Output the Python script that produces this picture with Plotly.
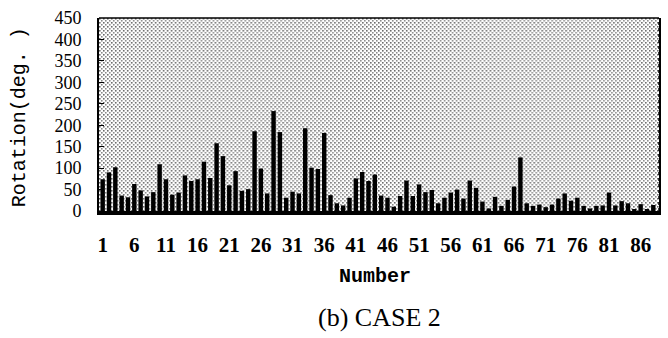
import base64
import plotly.graph_objects as go

# Rotation per member number
numbers = list(range(1, 89))
rotation = [
    74, 90, 102, 36, 32, 63, 48, 34, 44, 109, 74, 38, 43, 83,
    70, 74, 115, 77, 158, 128, 60, 93, 47, 51, 186, 99, 41, 233, 184,
    31, 45, 41, 193, 101, 98, 182, 37, 18, 13, 31, 76, 91, 70,
    85, 36, 31, 10, 35, 71, 35, 62, 44, 49, 18, 31, 43, 50, 29,
    71, 54, 22, 6, 33, 12, 26, 57, 125, 18, 12, 15, 9, 15,
    29, 41, 24, 31, 12, 6, 12, 13, 43, 13, 23, 18, 4, 16, 3, 14,
]
x_ticks = list(range(1, 87, 5))
y_ticks = list(range(0, 451, 50))

W, H = 668, 338
M_L, M_R, M_T, M_B = 99, 7, 18, 127
PW, PH = W - M_L - M_R, H - M_T - M_B

# stippled halftone background for the plot area
svg = (
    f'<svg xmlns="http://www.w3.org/2000/svg" width="{PW}" height="{PH}">'
    '<defs><pattern id="d" width="4" height="4" patternUnits="userSpaceOnUse">'
    '<rect x="0" y="0" width="1.6" height="1.6" fill="#6a6a6a"/>'
    '<rect x="2" y="2" width="1.6" height="1.6" fill="#8a8a8a"/>'
    '</pattern></defs>'
    '<rect width="100%" height="100%" fill="#ffffff"/>'
    '<rect width="100%" height="100%" fill="url(#d)"/></svg>'
)
bg_src = "data:image/svg+xml;base64," + base64.b64encode(svg.encode()).decode()

fig = go.Figure(
    go.Bar(x=numbers, y=rotation, marker=dict(color="black", line_width=0))
)

fig.update_layout(
    width=W, height=H,
    margin=dict(l=M_L, r=M_R, t=M_T, b=M_B),
    paper_bgcolor="white",
    plot_bgcolor="rgba(0,0,0,0)",
    bargap=0.3,
    showlegend=False,
    images=[dict(source=bg_src, xref="paper", yref="paper", x=0, y=1,
                 sizex=1, sizey=1, xanchor="left", yanchor="top",
                 sizing="stretch", layer="below")],
)

fig.update_xaxes(
    range=[0.42, 88.9], tickmode="array", tickvals=x_ticks,
    ticktext=[str(v) for v in x_ticks],
    tickfont=dict(family="Liberation Serif", size=21, color="black", weight="bold"),
    ticks="", showgrid=False, zeroline=False,
    showline=True, linecolor="black", linewidth=4, mirror=False,
    ticklabelstandoff=12,
)
fig.update_yaxes(
    range=[0, 450], tickmode="array", tickvals=y_ticks,
    ticktext=[str(v) for v in y_ticks],
    tickfont=dict(family="Liberation Serif", size=18, color="black"),
    ticks="inside", ticklen=5, tickwidth=1, tickcolor="black",
    showgrid=False, zeroline=False,
    showline=True, linecolor="black", linewidth=2, mirror=True,
    ticklabelstandoff=12,
)
# top and right frame of the plot area
fig.add_shape(type="line", xref="paper", yref="paper", x0=0, x1=1, y0=1, y1=1,
              line=dict(color="black", width=1.5))
fig.add_shape(type="line", xref="paper", yref="paper", x0=1, x1=1, y0=0, y1=1,
              line=dict(color="black", width=1.5, dash="dot"))

fig.add_annotation(text="Rotation(deg. )", xref="paper", yref="paper",
                   x=(19 - M_L) / PW, y=(M_T + PH - 117) / PH,
                   textangle=-90, showarrow=False, xanchor="center", yanchor="middle",
                   font=dict(family="Liberation Mono", size=20, color="black"))
fig.add_annotation(text="Number", xref="paper", yref="paper",
                   x=(376 - M_L) / PW, y=(M_T + PH - 276) / PH,
                   showarrow=False, xanchor="center", yanchor="middle",
                   font=dict(family="Liberation Mono", size=20, color="black", weight="bold"))
fig.add_annotation(text="(b) CASE 2", xref="paper", yref="paper",
                   x=(380 - M_L) / PW, y=(M_T + PH - 317) / PH,
                   showarrow=False, xanchor="center", yanchor="middle",
                   font=dict(family="Liberation Serif", size=26, color="black"))

fig.write_html("out.html")
